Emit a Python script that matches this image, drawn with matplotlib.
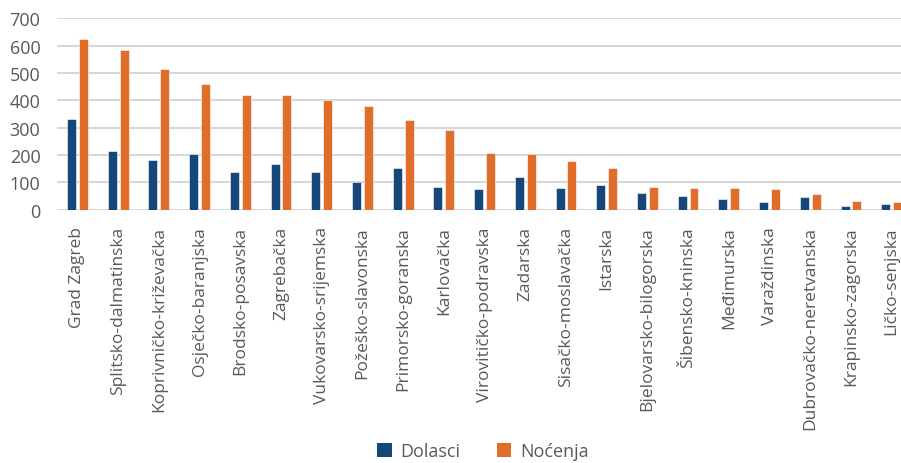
import matplotlib
matplotlib.use("Agg")
import matplotlib.pyplot as plt
import numpy as np
from matplotlib.patches import Patch

categories = ["Grad Zagreb", "Splitsko-dalmatinska", "Koprivničko-križevačka",
              "Osječko-baranjska", "Brodsko-posavska", "Zagrebačka",
              "Vukovarsko-srijemska", "Požeško-slavonska", "Primorsko-goranska",
              "Karlovačka", "Virovitičko-podravska", "Zadarska", "Sisačko-moslavačka",
              "Istarska", "Bjelovarsko-bilogorska", "Šibensko-kninska", "Međimurska",
              "Varaždinska", "Dubrovačko-neretvanska", "Krapinsko-zagorska",
              "Ličko-senjska"]
dolasci = [330, 216, 182, 204, 138, 167, 138, 101, 152, 84, 74, 118, 78, 89,
           60, 49, 38, 27, 46, 15, 21]
nocenja = [623, 585, 515, 460, 418, 418, 400, 380, 329, 291, 207, 202, 177, 151,
           84, 78, 78, 74, 57, 31, 27]
yticks = [0, 100, 200, 300, 400, 500, 600, 700]

blue = "#17467A"
orange = "#E06E2A"
gray_text = "#595959"

plt.rcParams['font.family'] = ['Open Sans', 'DejaVu Sans']

fig = plt.figure(figsize=(9.01, 4.64), dpi=100)
ax = fig.add_axes([57.1/901, 1-210.7/464, (912-57.1)/901, (210.7-19.3)/464])

x = np.arange(len(categories))
w = 0.22
off = 0.145
ax.bar(x - off, dolasci, width=w, color=blue, edgecolor="#ffffff", linewidth=0.4, zorder=3)
ax.bar(x + off, nocenja, width=w, color=orange, edgecolor="#ffffff", linewidth=0.4, zorder=3)

ax.set_xlim(-0.5, len(categories) - 0.5)
ax.set_ylim(0, 700)
ax.set_yticks(yticks)
ax.set_xticks(x)
ax.set_xticklabels(categories, rotation=90, ha="center", va="top")
ax.tick_params(axis="x", length=0, pad=12, labelsize=12.5, labelcolor=gray_text)
ax.tick_params(axis="y", length=0, pad=12, labelsize=13, labelcolor=gray_text)
for s in ax.spines.values():
    s.set_visible(False)
ax.yaxis.grid(True, color="#D0D0D0", linewidth=1.2, zorder=0)
ax.set_axisbelow(True)

handles = [Patch(facecolor=blue, label="Dolasci"), Patch(facecolor=orange, label="Noćenja")]
fig.legend(handles=handles, loc="center", bbox_to_anchor=(483/901, 1-452/464),
           ncol=2, frameon=False, fontsize=13, handlelength=0.8, handleheight=0.8,
           columnspacing=2.0, handletextpad=0.5, labelcolor=gray_text,
           borderpad=0.2)

fig.savefig("out.png", dpi=100)
